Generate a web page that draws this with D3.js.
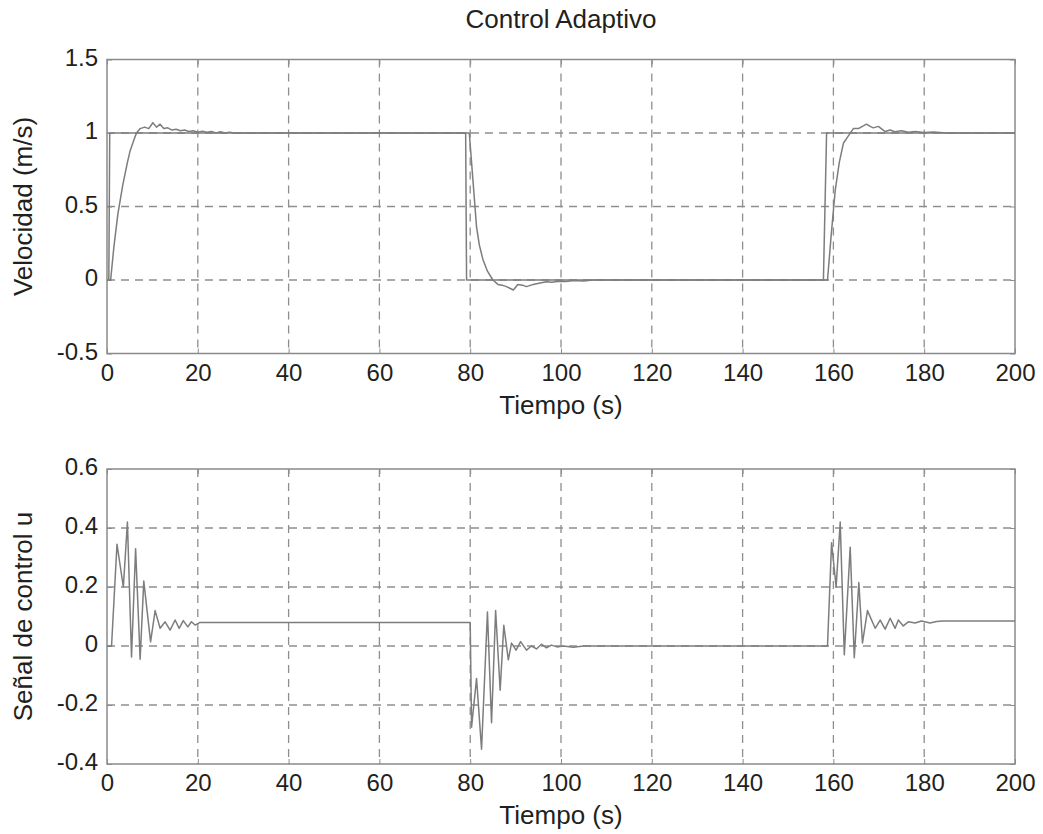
<!DOCTYPE html>
<html>
<head>
<meta charset="utf-8">
<script src="https://cdn.jsdelivr.net/npm/d3@7"></script>
<style>
  body { margin: 0; background: #fff; }
  text { font-family: "Liberation Sans", Arial, sans-serif; fill: #231f20; }
</style>
</head>
<body>
<div id="main"></div>
<script>
// tick values
var timeTicks = [0, 20, 40, 60, 80, 100, 120, 140, 160, 180, 200];
var velTicks = [-0.5, 0, 0.5, 1, 1.5];
var uTicks = [-0.4, -0.2, 0, 0.2, 0.4, 0.6];

// reference velocity (step input)
var refTime = [0, 0.4, 0.6, 79.0, 79.2, 157.8, 158.5, 200];
var refVel  = [0, 0, 1, 1, 0, 0, 1, 1];

// measured velocity
var respTime = [0, 0.8, 1.5, 2.4, 3.5, 4.5, 5.1, 6.0, 6.5, 7.3, 8.3, 9.2, 10.1, 10.9, 11.7, 12.5, 13.4, 14.3,
    15.2, 16.2, 17.1, 18.0, 19.0, 20.0, 21.0, 22.0, 23.0, 24.0, 25.0, 26.0, 27.0, 28.0, 30.0,
    79.8, 80.3, 80.8, 81.4, 82.0, 82.8, 83.8, 85.0, 86.1, 87.0, 88.0, 89.5, 90.5, 91.5, 92.4, 93.9, 95.4,
    96.8, 98.0, 99.5, 101.0, 103.0, 105.0, 107.0, 110.0,
    158.7, 159.5, 160.4, 161.3, 162.2, 163.3, 164.4, 165.5, 166.4, 167.3, 168.1, 168.8, 169.9, 171.4,
    172.5, 173.5, 175.0, 176.5, 178.0, 180.0, 182.0, 185.0, 200];
var respVel  = [0, 0, 0.22, 0.45, 0.65, 0.8, 0.88, 0.96, 1.0, 1.03, 1.04, 1.03, 1.07, 1.04, 1.06, 1.03, 1.035, 1.02,
    1.025, 1.015, 1.02, 1.01, 1.015, 1.005, 1.012, 1.005, 1.01, 1.0, 1.008, 1.0, 1.006, 1.0, 1.0,
    1.0, 0.8, 0.6, 0.36, 0.24, 0.14, 0.06, 0.0, -0.03, -0.035, -0.045, -0.068, -0.03, -0.035, -0.045, -0.03, -0.02,
    -0.012, -0.016, -0.008, -0.01, -0.004, -0.006, 0, 0,
    0, 0.3, 0.61, 0.8, 0.93, 0.98, 1.03, 1.03, 1.045, 1.06, 1.045, 1.035, 1.045, 1.01,
    1.02, 1.008, 1.015, 1.005, 1.01, 1.004, 1.006, 1.0, 1.0];

// control signal
var ctrlTime = [0, 1.0, 2.2, 3.6, 4.5, 5.4, 6.3, 7.3, 8.1, 9.6, 10.6, 11.7, 12.8, 13.9, 15.0, 15.9, 16.8, 17.8,
    18.6, 19.4, 20.5,
    80.0, 80.3, 81.4, 82.5, 83.8, 84.7, 85.6, 86.6, 87.4, 88.4, 89.1, 90.1, 91.1, 92.4, 93.5, 94.6, 95.7,
    96.8, 97.9, 99.1, 100.5, 102.7, 105.0,
    158.7, 159.6, 160.6, 161.5, 162.4, 163.7, 164.6, 165.6, 166.4, 167.5, 169.2, 170.3, 171.4, 172.5,
    173.6, 174.3, 175.4, 176.5, 178.0, 179.4, 181.3, 182.7, 184.2, 200];
var ctrlU    = [0, 0, 0.345, 0.2, 0.42, -0.037, 0.33, -0.045, 0.22, 0.014, 0.12, 0.06, 0.082, 0.054, 0.088, 0.06, 0.086, 0.065,
    0.082, 0.071, 0.08,
    0.08, -0.275, -0.11, -0.35, 0.115, -0.26, 0.12, -0.15, 0.07, -0.047, 0.01, -0.014, 0.015, -0.014, 0.0, -0.01, 0.006,
    -0.006, 0.003, -0.003, 0.0, -0.004, 0.0,
    0, 0.35, 0.2, 0.42, -0.03, 0.335, -0.04, 0.215, 0.01, 0.12, 0.06, 0.088, 0.057, 0.094,
    0.06, 0.088, 0.068, 0.082, 0.078, 0.085, 0.078, 0.083, 0.085, 0.085];

function zip(xs, ys) {
    return xs.map(function (t, i) { return {t: t, v: ys[i]}; });
}

var W = 1043, H = 834;
var lineColor = '#7d7d7d';
var gridColor = '#8e8e8e';

var svg = d3.select('#main').append('svg')
    .attr('width', W)
    .attr('height', H);

svg.append('text')
    .attr('x', 561)
    .attr('y', 28)
    .attr('font-size', '26px')
    .attr('text-anchor', 'middle')
    .text('Control Adaptivo');

function panel(cfg) {
    var x = d3.scaleLinear().domain([0, 200]).range([107, 1015]);
    var y = d3.scaleLinear().domain(cfg.domain).range([cfg.bottom, cfg.top]);
    var g = svg.append('g');

    // grid
    g.selectAll('.vgrid')
        .data(timeTicks.slice(1, -1))
        .enter().append('line')
        .attr('x1', function (d) { return x(d); })
        .attr('x2', function (d) { return x(d); })
        .attr('y1', cfg.top)
        .attr('y2', cfg.bottom)
        .attr('stroke', gridColor)
        .attr('stroke-width', 1.3)
        .attr('stroke-dasharray', '8,6');

    g.selectAll('.hgrid')
        .data(cfg.ticks.slice(1, -1))
        .enter().append('line')
        .attr('x1', 107)
        .attr('x2', 1015)
        .attr('y1', function (d) { return y(d); })
        .attr('y2', function (d) { return y(d); })
        .attr('stroke', gridColor)
        .attr('stroke-width', 1.3)
        .attr('stroke-dasharray', '8,6');

    // axes
    var xAxisCall = d3.axisBottom(x).tickValues(timeTicks).tickSizeInner(-5).tickSizeOuter(0).tickPadding(10)
        .tickFormat(d3.format('d'));
    var xa = g.append('g')
        .attr('transform', 'translate(0,' + cfg.bottom + ')')
        .call(xAxisCall);

    var yAxisCall = d3.axisLeft(y).tickValues(cfg.ticks).tickSizeInner(-5).tickSizeOuter(0).tickPadding(9)
        .tickFormat(function (d) { return String(d); });
    var ya = g.append('g')
        .attr('transform', 'translate(107,0)')
        .call(yAxisCall);
    ya.selectAll('text').attr('y', -2);

    g.append('g')
        .attr('transform', 'translate(0,' + cfg.top + ')')
        .call(d3.axisTop(x).tickValues(timeTicks).tickSizeInner(-5).tickSizeOuter(0).tickFormat(''));
    g.append('g')
        .attr('transform', 'translate(1015,0)')
        .call(d3.axisRight(y).tickValues(cfg.ticks).tickSizeInner(-5).tickSizeOuter(0).tickFormat(''));

    g.selectAll('.domain').remove();
    g.selectAll('.tick line').attr('stroke', gridColor);
    g.selectAll('.tick text')
        .attr('font-size', '24px')
        .attr('fill', '#231f20')
        .attr('font-family', '"Liberation Sans", Arial, sans-serif');

    // frame
    g.append('rect')
        .attr('x', 107)
        .attr('y', cfg.top)
        .attr('width', 1015 - 107)
        .attr('height', cfg.bottom - cfg.top)
        .attr('fill', 'none')
        .attr('stroke', '#8a8a8a')
        .attr('stroke-width', 1.5);

    // series
    var line = d3.line()
        .x(function (d) { return x(d.t); })
        .y(function (d) { return y(d.v); });

    cfg.series.forEach(function (s) {
        g.append('path')
            .datum(s)
            .attr('d', line)
            .attr('fill', 'none')
            .attr('stroke', lineColor)
            .attr('stroke-width', 1.5)
            .attr('stroke-linejoin', 'round');
    });

    // labels
    g.append('text')
        .attr('x', 561)
        .attr('y', cfg.bottom + 60)
        .attr('font-size', '26px')
        .attr('text-anchor', 'middle')
        .text('Tiempo (s)');

    g.append('text')
        .attr('x', -((cfg.top + cfg.bottom) / 2))
        .attr('y', 32)
        .attr('font-size', '26px')
        .attr('text-anchor', 'middle')
        .attr('transform', 'rotate(-90)')
        .text(cfg.label);
}

panel({
    domain: [-0.5, 1.5], top: 59.5, bottom: 353.5, ticks: velTicks,
    label: 'Velocidad (m/s)',
    series: [zip(refTime, refVel), zip(respTime, respVel)]
});

panel({
    domain: [-0.4, 0.6], top: 469, bottom: 764, ticks: uTicks,
    label: 'Señal de control u',
    series: [zip(ctrlTime, ctrlU)]
});
</script>
</body>
</html>
